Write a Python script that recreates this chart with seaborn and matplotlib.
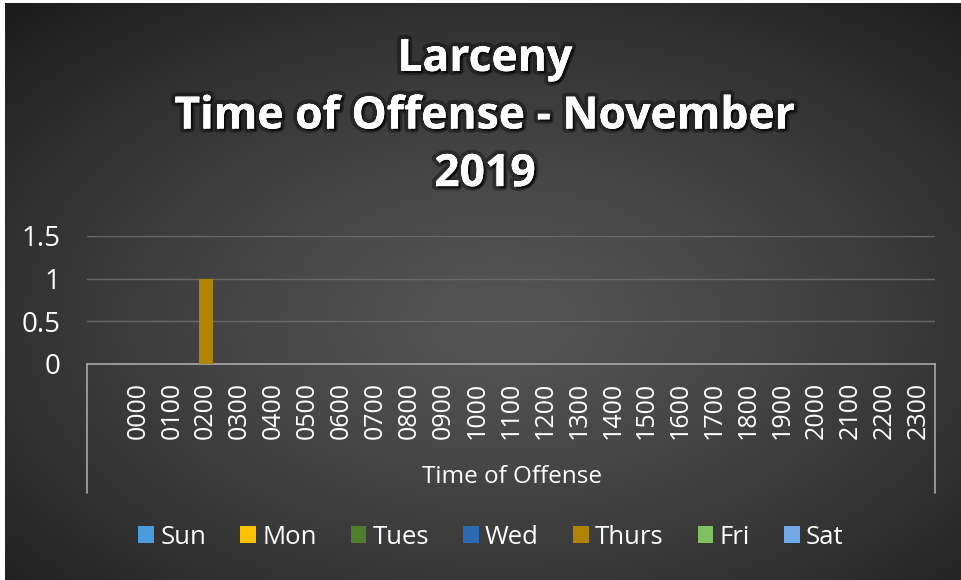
import numpy as np
import pandas as pd
import matplotlib
matplotlib.use("Agg")
import matplotlib.pyplot as plt
import matplotlib.patheffects as pe
from matplotlib.lines import Line2D
import seaborn as sns

# ---- data ----
hours = ["", "0000", "0100", "0200", "0300", "0400", "0500", "0600", "0700", "0800",
         "0900", "1000", "1100", "1200", "1300", "1400", "1500", "1600", "1700",
         "1800", "1900", "2000", "2100", "2200", "2300"]
days = ["Sun", "Mon", "Tues", "Wed", "Thurs", "Fri", "Sat"]
thurs_counts = [0, 0, 0, 1, 0, 0, 0, 0, 0, 0, 0, 0, 0, 0, 0, 0, 0, 0, 0, 0, 0, 0, 0, 0, 0]
other_counts = [0] * len(hours)
day_colors = ["#4A9BE0", "#FFC000", "#4E7F2A", "#2A6AB0", "#B08400", "#80C060", "#70A8E8"]
title_text = "Larceny\nTime of Offense - November\n2019"
xlabel_text = "Time of Offense"
yticks = [0, 0.5, 1, 1.5]

rows = []
for d in days:
    vals = thurs_counts if d == "Thurs" else other_counts
    for h, v in zip(hours, vals):
        rows.append({"hour": h, "day": d, "count": v})
df = pd.DataFrame(rows)

W, H, DPI = 961, 580, 100
fig = plt.figure(figsize=(W / DPI, H / DPI), dpi=DPI, facecolor="white")

# background radial gradient
bg = fig.add_axes([5 / W, 0, 1 - 5 / W, 1 - 3 / H], zorder=0)
yy, xx = np.mgrid[0:1:300j, 0:1:500j]
r = np.sqrt(((xx - 0.52) / 0.75) ** 2 + ((yy - 0.55) / 0.75) ** 2)
r = np.clip(r, 0, 1)
lum = 0.33 - 0.22 * r ** 1.3
img = np.dstack([lum, lum, lum])
bg.imshow(img, aspect="auto", extent=[0, 1, 0, 1], interpolation="bilinear")
bg.set_axis_off()

sns.set_style("dark")
ax_l, ax_r = 87 / W, 935 / W
ax_b, ax_t = 1 - 364 / H, 1 - 236 / H
ax = fig.add_axes([ax_l, ax_b, ax_r - ax_l, ax_t - ax_b], zorder=2)
ax.set_facecolor("none")

sns.barplot(data=df, x="hour", y="count", hue="day", order=hours, hue_order=days,
            palette=day_colors, dodge=False, width=0.42, ax=ax, legend=False,
            saturation=1, linewidth=0, zorder=3)

ax.set_ylim(0, 1.5)
ax.set_xlim(-0.5, len(hours) - 0.5)
ax.set_yticks(yticks)
ax.set_yticklabels(["0", "0.5", "1", "1.5"])
ax.grid(axis="y", color="#6a6a6a", linewidth=1.0, zorder=1)
ax.grid(axis="x", visible=False)
for s in ["top", "right", "left"]:
    ax.spines[s].set_visible(False)
ax.spines["bottom"].set_color("#a8a8a8")
ax.spines["bottom"].set_linewidth(1.2)
ax.tick_params(axis="y", length=0, pad=19, labelsize=20, labelcolor="white")
ax.tick_params(axis="x", length=0, pad=13, labelsize=18, labelcolor="white",
               labelrotation=90)
for t in ax.get_yticklabels() + ax.get_xticklabels():
    t.set_family("Open Sans")
ax.set_xlabel("")
ax.set_ylabel("")

# multi-level category axis box
ybot = 1 - 493 / H
for xf in (ax_l, ax_r):
    fig.add_artist(Line2D([xf, xf], [ax_b, ybot], color="#a8a8a8", linewidth=1.2,
                          transform=fig.transFigure, zorder=3))

fig.text(512 / W, 1 - 477 / H, xlabel_text, color="white", fontsize=17.5,
         family="Open Sans", ha="center", va="center", zorder=4)

# title
fig.text(485 / W, 1 - 117 / H, title_text, color="white", fontsize=32,
         family="Open Sans", fontweight="bold", ha="center", va="center",
         linespacing=1.37, zorder=4,
         path_effects=[pe.withStroke(linewidth=6, foreground=(0, 0, 0, 0.35)),
                       pe.withSimplePatchShadow(offset=(1.5, -1.5), shadow_rgbFace="black", alpha=0.7),
                       pe.Normal()])

# legend
handles = [plt.Rectangle((0, 0), 1, 1, facecolor=c, edgecolor="none") for c in day_colors]
leg = fig.legend(handles, days, loc="center", bbox_to_anchor=(491 / W, 1 - 537 / H),
                 ncol=7, frameon=False, handlelength=0.6, handleheight=0.6,
                 handletextpad=0.25, columnspacing=1.33,
                 prop={"family": "Open Sans", "size": 18.5})
for t in leg.get_texts():
    t.set_color("white")

fig.savefig("out.png", dpi=DPI, facecolor="white")
